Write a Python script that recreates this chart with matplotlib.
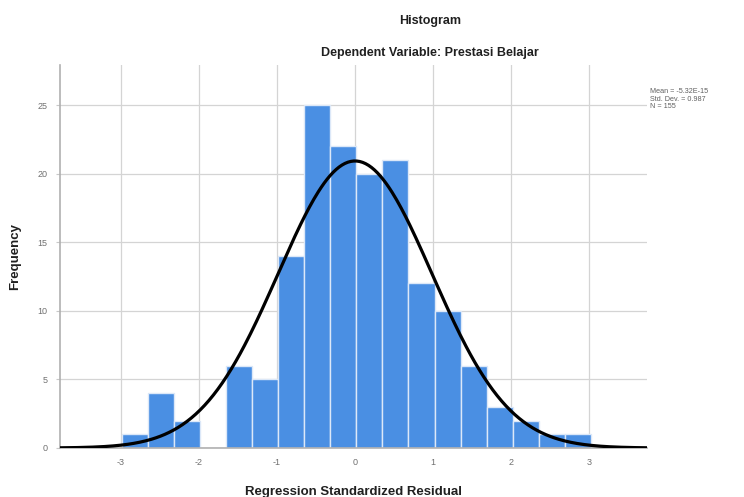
import numpy as np
import matplotlib
matplotlib.use("Agg")
from matplotlib import pyplot as plt

plt.rcParams['font.family'] = ['Liberation Sans', 'DejaVu Sans']
plt.rcParams['axes.unicode_minus'] = False

# histogram data
bin_start = -2.99
bin_width = 0.334
counts = [1, 4, 2, 0, 6, 5, 14, 25, 22, 20, 21, 12, 10, 6, 3, 2, 1, 1]

mean = -5.32e-15
std_dev = 0.987
n_obs = 155

x_ticks = [-3, -2, -1, 0, 1, 2, 3]
y_ticks = [0, 5, 10, 15, 20, 25]

fig = plt.figure(figsize=(7.44, 4.97), dpi=100)
ax = fig.add_axes([0.0806, 0.0986, 0.789, 0.770])

edges = bin_start + bin_width * np.arange(len(counts) + 1)
ax.bar(edges[:-1], counts, width=bin_width, align='edge',
       color='#4a8fe3', edgecolor='#dce8f8', linewidth=1.0, zorder=2)

# normal curve scaled to the histogram
xs = np.linspace(-3.8, 3.75, 400)
ys = n_obs * bin_width / (std_dev * np.sqrt(2 * np.pi)) * np.exp(-0.5 * ((xs - mean) / std_dev) ** 2)
ax.plot(xs, ys, color='black', linewidth=2.3, zorder=3)

ax.set_xlim(-3.78, 3.74)
ax.set_ylim(0, 27.9)
ax.set_xticks(x_ticks)
ax.set_yticks(y_ticks)
ax.grid(True, color='#d4d4d4', linewidth=0.9, zorder=0)
ax.set_axisbelow(True)

for side in ['top', 'right']:
    ax.spines[side].set_visible(False)
for side in ['left', 'bottom']:
    ax.spines[side].set_color('#b0b0b0')
    ax.spines[side].set_linewidth(1.2)

ax.tick_params(axis='x', length=0, labelsize=6.5, labelcolor='#707070', pad=7)
ax.tick_params(axis='y', length=3, color='#c8c8c8', labelsize=6.5, labelcolor='#707070', pad=6)

ax.set_xlabel('Regression Standardized Residual', fontsize=9.5, fontweight='bold',
              color='#202020', labelpad=14)
ax.set_ylabel('Frequency', fontsize=9.5, fontweight='bold', color='#202020', labelpad=12)

fig.text(0.578, 0.958, 'Histogram', ha='center', va='center', fontsize=9,
         fontweight='bold', color='#202020')
fig.text(0.578, 0.893, 'Dependent Variable: Prestasi Belajar', ha='center', va='center',
         fontsize=9, fontweight='bold', color='#202020')

stats = 'Mean = -5.32E-15\nStd. Dev. = 0.987\nN = 155'
fig.text(0.874, 0.822, stats, ha='left', va='top', fontsize=5.2, color='#606060',
         linespacing=1.05)

fig.savefig('out.png', dpi=100)
